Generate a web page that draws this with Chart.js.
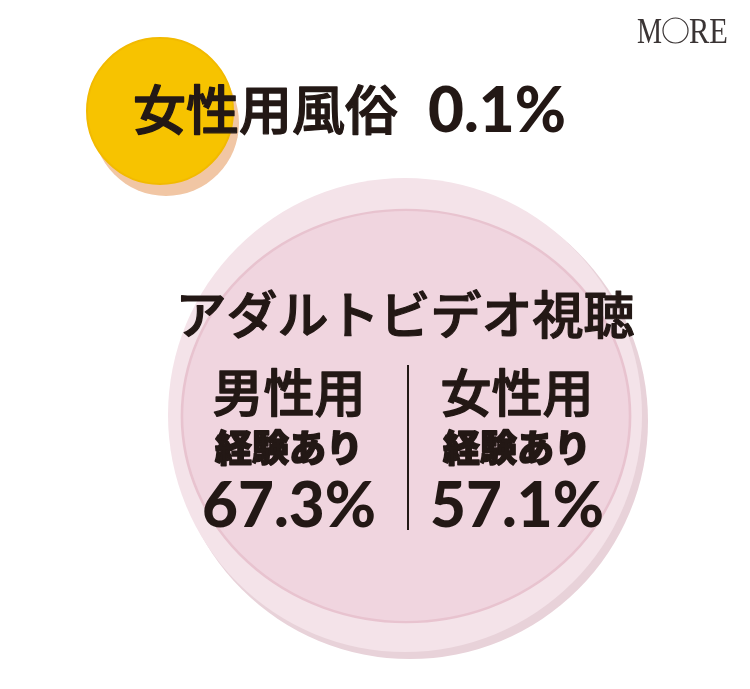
<!DOCTYPE html>
<html>
<head>
<meta charset="utf-8">
<script src="https://cdn.jsdelivr.net/npm/chart.js@4.4.1/dist/chart.umd.min.js"></script>
<style>
  html, body { margin: 0; padding: 0; background: #ffffff; }
  #wrap { width: 750px; height: 689px; }
</style>
</head>
<body>
<div id="wrap"><canvas id="c" width="750" height="689"></canvas></div>
<script>
// ---- data ----
const topics = ['女性用風俗', 'アダルトビデオ視聴'];
const fuzokuValues = [0.1];
const avGroups = ['男性用', '女性用'];
const avSubLabel = '経験あり';
const avValues = [67.3, 57.1];
const brand = 'MORE';

// ---- layout (positions / sizes in page units) ----
const layout = {
  yellow:   { x: 160, y: 111, r: 73 },
  peach:    { x: 166, y: 123, r: 73 },
  pinkShadow: { x: 410, y: 421, r: 238 },
  pinkOuter:  { x: 405, y: 415, r: 237 },
  pinkInner:  { x: 406, y: 416, r: 214, squash: [1.047, 0.963] },
  fuzokuLabel: { x: 133, y: 110 },
  fuzokuValue: { x: 428, y: 132 },
  avTitle: { x: 405, y: 315 },
  groupX: [289, 517],
  groupY: 393, subY: 448, valueY: 527,
  divider: { x: 408, y0: 365, y1: 530 }
};
const ink = '#231815';

function pt(p) { return [{ x: p.x, y: p.y, r: p.r }]; }

const datasets = [
  { label: topics[0], data: pt(layout.yellow), backgroundColor: '#F7C300', borderColor: '#F2BA00', borderWidth: 2, order: 1 },
  { label: topics[0] + ' shadow', data: pt(layout.peach), backgroundColor: '#F1C6A4', borderWidth: 0, order: 2 },
  { label: topics[1], data: pt(layout.pinkInner), backgroundColor: '#F0D5DF', borderColor: '#E8C3CF', borderWidth: 2.5, order: 3, squash: layout.pinkInner.squash },
  { label: topics[1] + ' rim', data: pt(layout.pinkOuter), backgroundColor: '#F4E3E9', borderWidth: 0, order: 4 },
  { label: topics[1] + ' shadow', data: pt(layout.pinkShadow), backgroundColor: '#E8D2D9', borderWidth: 0, order: 5 }
];
datasets.forEach(d => { d.clip = false; d.hoverRadius = 0; d.hoverBorderWidth = 0; });

// draws a dataset's bubble as an ellipse (perspective disc)
const squashPlugin = {
  id: 'squash',
  beforeDatasetDraw(chart, args) {
    const ds = chart.data.datasets[args.index];
    if (!ds.squash) return;
    const el = args.meta.data[0];
    const ctx = chart.ctx;
    ctx.save();
    ctx.translate(el.x, el.y);
    ctx.scale(ds.squash[0], ds.squash[1]);
    ctx.translate(-el.x, -el.y);
  },
  afterDatasetDraw(chart, args) {
    const ds = chart.data.datasets[args.index];
    if (!ds.squash) return;
    chart.ctx.restore();
  }
};

function heavyText(ctx, text, x, y, stroke) {
  ctx.fillText(text, x, y);
  if (stroke) {
    ctx.lineWidth = stroke;
    ctx.lineJoin = 'round';
    ctx.strokeText(text, x, y);
  }
}

const textPlugin = {
  id: 'texts',
  afterDraw(chart) {
    const ctx = chart.ctx;
    const sx = chart.scales.x, sy = chart.scales.y;
    const X = v => sx.getPixelForValue(v), Y = v => sy.getPixelForValue(v);
    ctx.save();
    ctx.fillStyle = ink;
    ctx.strokeStyle = ink;

    // 女性用風俗 0.1%
    ctx.textAlign = 'left';
    ctx.textBaseline = 'middle';
    ctx.font = '500 53px "Noto Sans CJK JP"';
    heavyText(ctx, topics[0], X(layout.fuzokuLabel.x), Y(layout.fuzokuLabel.y), 1.3);
    ctx.textBaseline = 'alphabetic';
    ctx.font = '900 62px Lato';
    ctx.fillText(fuzokuValues[0].toFixed(1) + '%', X(layout.fuzokuValue.x), Y(layout.fuzokuValue.y));

    // アダルトビデオ視聴
    ctx.textAlign = 'center';
    ctx.textBaseline = 'middle';
    ctx.font = '500 51px "Noto Sans CJK JP"';
    heavyText(ctx, topics[1], X(layout.avTitle.x), Y(layout.avTitle.y), 1.2);

    avGroups.forEach((g, i) => {
      const cx = X(layout.groupX[i]);
      ctx.textBaseline = 'middle';
      ctx.font = '500 51px "Noto Sans CJK JP"';
      heavyText(ctx, g, cx, Y(layout.groupY), 1.3);
      ctx.font = '900 37px "Noto Sans CJK JP"';
      heavyText(ctx, avSubLabel, cx, Y(layout.subY), 1.6);
      ctx.textBaseline = 'alphabetic';
      ctx.font = '900 62px Lato';
      ctx.fillText(avValues[i].toFixed(1) + '%', cx, Y(layout.valueY));
    });

    // divider
    ctx.lineWidth = 2;
    ctx.beginPath();
    ctx.moveTo(X(layout.divider.x), Y(layout.divider.y0));
    ctx.lineTo(X(layout.divider.x), Y(layout.divider.y1));
    ctx.stroke();

    // MORE logo
    ctx.fillStyle = '#3a3434';
    ctx.strokeStyle = '#3a3434';
    ctx.textAlign = 'left';
    ctx.textBaseline = 'alphabetic';
    ctx.font = '36px "Liberation Serif"';
    ctx.fillText(brand[0], 637, 43, 25);
    ctx.lineWidth = 1.2;
    ctx.beginPath();
    ctx.arc(675.5, 30.5, 12.5, 0, Math.PI * 2);
    ctx.stroke();
    ctx.fillText(brand.slice(2), 689, 43, 39);
    ctx.restore();
  }
};

new Chart(document.getElementById('c'), {
  type: 'bubble',
  data: { datasets },
  options: {
    responsive: false,
    animation: false,
    events: [],
    layout: { padding: 0, autoPadding: false },
    plugins: { legend: { display: false }, tooltip: { enabled: false } },
    scales: {
      x: { type: 'linear', min: 0, max: 750, display: false },
      y: { type: 'linear', min: 0, max: 689, reverse: true, display: false }
    }
  },
  plugins: [squashPlugin, textPlugin]
});
</script>
</body>
</html>
